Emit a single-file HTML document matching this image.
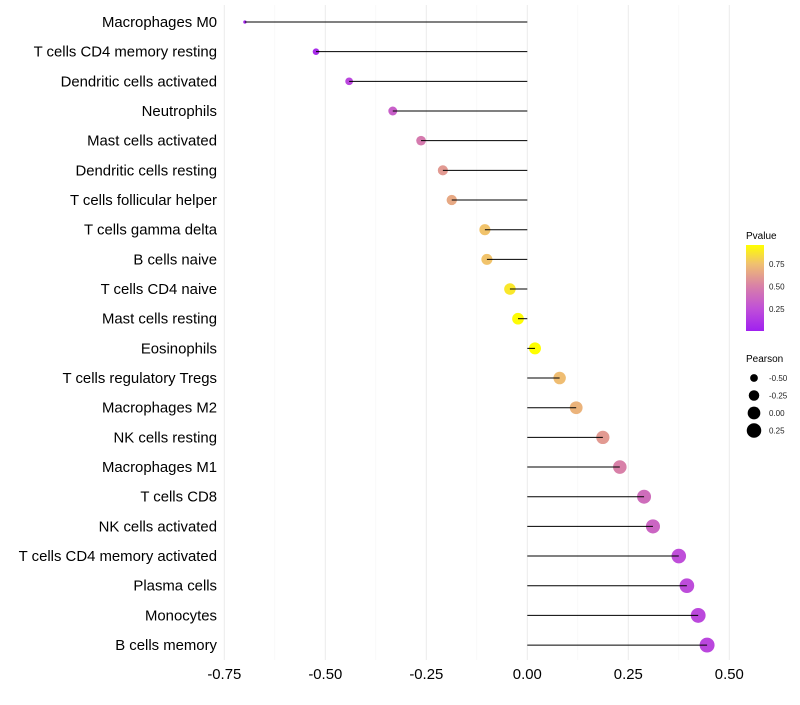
<!DOCTYPE html>
<html><head><meta charset="utf-8"><style>
body{margin:0;background:#fff;font-family:"Liberation Sans",sans-serif}
</style></head><body>
<svg id="chart" width="800" height="700" xmlns="http://www.w3.org/2000/svg"></svg>
<script>
const categories=["Macrophages M0","T cells CD4 memory resting","Dendritic cells activated","Neutrophils","Mast cells activated","Dendritic cells resting","T cells follicular helper","T cells gamma delta","B cells naive","T cells CD4 naive","Mast cells resting","Eosinophils","T cells regulatory  Tregs ","Macrophages M2","NK cells resting","Macrophages M1","T cells CD8","NK cells activated","T cells CD4 memory activated","Plasma cells","Monocytes","B cells memory"];
const pearson=[-0.699,-0.523,-0.441,-0.333,-0.263,-0.209,-0.187,-0.105,-0.100,-0.043,-0.023,0.019,0.080,0.121,0.187,0.229,0.289,0.311,0.375,0.395,0.423,0.445];
const pvalue=[0.03,0.06,0.2,0.33,0.47,0.6,0.66,0.76,0.76,0.88,0.95,0.96,0.74,0.7,0.6,0.5,0.4,0.36,0.24,0.23,0.21,0.2];
const xTicks=[-0.75,-0.5,-0.25,0,0.25,0.5];
const xTickLabels=["-0.75","-0.50","-0.25","0.00","0.25","0.50"];
const legP=[0.25,0.5,0.75];
const legSize=[-0.5,-0.25,0,0.25];
const legSizeLabels=["-0.50","-0.25","0.00","0.25"];
const svg=document.getElementById('chart');
const NS="http://www.w3.org/2000/svg";
const xs=v=>527.3+v*404;
const ys=i=>22+i*29.67;
const rs=v=>Math.sqrt(Math.max(2.25,35.3+46.5*v));
function lerp(a,b,t){return a.map((x,k)=>Math.round(x+(b[k]-x)*t));}
function col(p){const s=[[0,[160,32,240]],[0.25,[192,80,216]],[0.5,[216,128,168]],[0.75,[240,192,112]],[0.96,[255,255,0]]];
 p=Math.min(0.96,Math.max(0,p));for(let k=0;k<s.length-1;k++){if(p<=s[k+1][0]){const c=lerp(s[k][1],s[k+1][1],(p-s[k][0])/(s[k+1][0]-s[k][0]));return `rgb(${c})`;}}return 'rgb(255,255,0)';}
function el(t,a,txt){const e=document.createElementNS(NS,t);for(const k in a)e.setAttribute(k,a[k]);if(txt!==undefined)e.textContent=txt;svg.appendChild(e);return e;}
xTicks.forEach((v,i)=>{
 const g=el('line',{x1:xs(v),x2:xs(v),y1:5,y2:660,stroke:'#ebebeb','stroke-width':1});
 
 if(i<xTicks.length-1){const m=el('line',{x1:xs(v+0.125),x2:xs(v+0.125),y1:5,y2:660,stroke:'#f4f4f4','stroke-width':0.6});
 }
 const t=el('text',{x:xs(v),y:679,'text-anchor':'middle','font-size':14.9,fill:'#000'},xTickLabels[i]);
 
});
categories.forEach((c,i)=>{
 const y=ys(i);
 const t=el('text',{x:217,y:y+5,'text-anchor':'end','font-size':14.9,fill:'#000'},c);
 
 const p=el('circle',{cx:xs(pearson[i]),cy:y,r:rs(pearson[i]),fill:col(pvalue[i])});
 
 const l=el('line',{x1:xs(0),x2:xs(pearson[i]),y1:y,y2:y,stroke:'#000','stroke-width':1});
 
});
const defs=el('defs',{});
defs.innerHTML='<linearGradient id="pg" x1="0" y1="1" x2="0" y2="0"><stop offset="0" stop-color="rgb(160,32,240)"/><stop offset="0.26" stop-color="rgb(192,80,216)"/><stop offset="0.52" stop-color="rgb(216,128,168)"/><stop offset="0.78" stop-color="rgb(240,192,112)"/><stop offset="1" stop-color="rgb(255,255,0)"/></linearGradient>';
let t=el('text',{x:746,y:239,'font-size':10,fill:'#000'},'Pvalue');

const bar=el('rect',{x:746,y:245,width:18,height:86,fill:'url(#pg)'});

legP.forEach(p=>{const y=331-(p-0.005)*90;
 const tk=el('text',{x:769,y:y+3,'font-size':8,fill:'#222'},p.toFixed(2));
 });
t=el('text',{x:746,y:362,'font-size':10,fill:'#000'},'Pearson');

legSize.forEach((v,i)=>{const y=378+i*17.5;
 const c=el('circle',{cx:754,cy:y,r:rs(v)+0.4,fill:'#000'});
 
 const tk=el('text',{x:769,y:y+3,'font-size':8,fill:'#222'},legSizeLabels[i]);
 });
</script>
</body></html>
